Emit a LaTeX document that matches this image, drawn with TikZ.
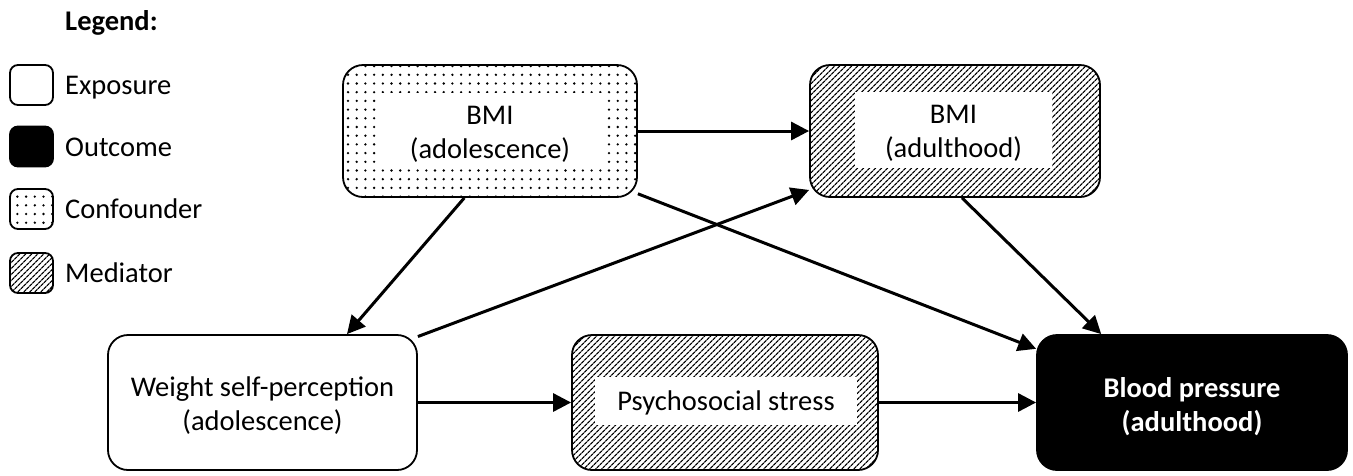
\documentclass[tikz,border=0pt]{standalone}
\usepackage{fontspec}
\setmainfont{Carlito}
\usetikzlibrary{patterns.meta,arrows.meta}
\begin{document}
\begin{tikzpicture}[x=1pt,y=-1pt,
  txt/.style={font=\fontsize{28.5}{34}\selectfont, align=center, inner sep=0pt},
  bigbox/.style={draw, line width=1.8pt, rounded corners=20pt, inner sep=0pt},
  legbox/.style={draw, line width=1.8pt, rounded corners=8pt, inner sep=0pt, minimum width=43pt, minimum height=40pt},
  inner/.style={fill=white, inner sep=0pt},
  dotfill/.style={pattern={Dots[radius=1.3pt, distance=8.7pt]}},
  hatchfill/.style={pattern={Lines[angle=45, distance=4pt, line width=1.3pt]}},
  arr/.style={line width=3pt, -{Triangle[length=18pt,width=18pt]}}
]
\useasboundingbox (0,0) rectangle (1353,475);

% Legend
\node[txt, anchor=base west, font=\fontsize{28.5}{34}\selectfont\bfseries] (legtitle) at (65,30) {Legend:};
\node[legbox, fill=white] (lexp) at (31.5,85) {};
\node[txt, anchor=base west] (lexpt) at (65,94.5) {Exposure};
\node[legbox, fill=black] (lout) at (31.5,146.5) {};
\node[txt, anchor=base west] (loutt) at (65,156) {Outcome};
\node[legbox, dotfill] (lcon) at (31.5,209) {};
\node[txt, anchor=base west] (lcont) at (65,218.5) {Confounder};
\node[legbox, hatchfill] (lmed) at (31.5,273) {};
\node[txt, anchor=base west] (lmedt) at (65,282.5) {Mediator};

% Main boxes
\node[bigbox, dotfill, minimum width=294pt, minimum height=132pt] (adol) at (490,131) {};
\node[inner, minimum width=226pt, minimum height=75pt] (adolin) at (490,130.5) {};
\node[txt] (adolt) at (490,134) {BMI\\(adolescence)};

\node[bigbox, hatchfill, minimum width=290pt, minimum height=132pt] (adult) at (955,131) {};
\node[inner, minimum width=197pt, minimum height=76pt] (adultin) at (953.5,130) {};
\node[txt] (adultt) at (953.5,133) {BMI\\(adulthood)};

\node[bigbox, fill=white, minimum width=309pt, minimum height=135pt] (weight) at (262.5,402.5) {};
\node[txt] (weightt) at (262.5,406) {Weight self-perception\\(adolescence)};

\node[bigbox, hatchfill, minimum width=306pt, minimum height=135pt] (stress) at (725,402.5) {};
\node[inner, minimum width=262pt, minimum height=48pt] (stressin) at (726,401) {};
\node[txt] (stresst) at (726,403) {Psychosocial stress};

\node[bigbox, fill=black, minimum width=310pt, minimum height=135pt] (bp) at (1192,402.5) {};
\node[txt, text=white, font=\fontsize{28.5}{34}\selectfont\bfseries] (bpt) at (1192,407) {Blood pressure\\(adulthood)};

% Arrows
\draw[arr] (adol.east) -- (adult.west);
\draw[arr] (adol.-111) -- (weight.39.5);
\draw[arr] (weight.23) -- (adult.202);
\draw[arr] (adol.-23.5) -- (bp.161.3);
\draw[arr] (adult.-84) -- (bp.143);
\draw[arr] (weight.east) -- (stress.west);
\draw[arr] (stress.east) -- (bp.west);
\end{tikzpicture}
\end{document}
